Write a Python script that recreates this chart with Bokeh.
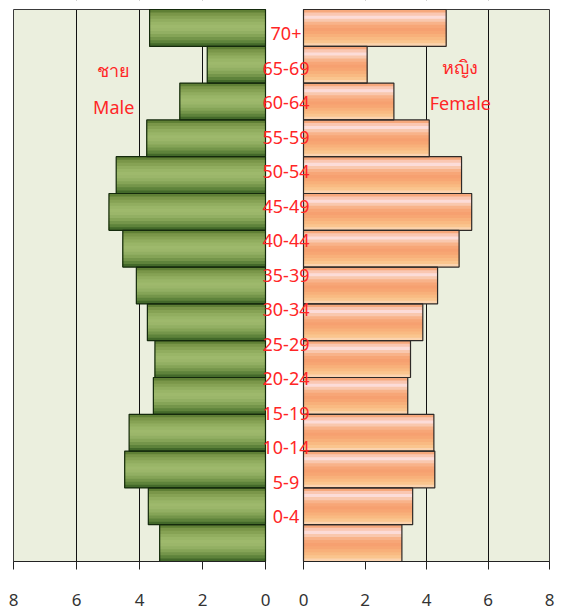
from bokeh.plotting import figure
from bokeh.models import (Range1d, LinearAxis, FixedTicker, Grid,
                          BoxAnnotation, ColumnDataSource, Label)
from bokeh.transform import dodge
from bokeh.core.properties import value
from bokeh.embed import file_html
from bokeh.resources import INLINE

# ---------------- data ----------------
ages = ["0-4", "5-9", "10-14", "15-19", "20-24", "25-29", "30-34", "35-39",
        "40-44", "45-49", "50-54", "55-59", "60-64", "65-69", "70+"]
male = [3.36, 3.72, 4.47, 4.33, 3.56, 3.51, 3.75, 4.10,
        4.53, 4.97, 4.74, 3.77, 2.72, 1.85, 3.68]
female = [3.20, 3.55, 4.27, 4.24, 3.39, 3.48, 3.88, 4.36,
          5.06, 5.47, 5.14, 4.09, 2.94, 2.07, 4.64]
tick_values = [0, 2, 4, 6, 8]
grid_values = [2, 4, 6]
male_title = ["ชาย", "Male"]
female_title = ["หญิง", "Female"]

# ---------------- style ----------------
BG = "#EBEFDE"
BORDER = "#3a3a3a"
RED = "#FF2626"
FONT = "Noto Sans"
green_stripes = ["#5F7F35", "#7A9649", "#86A254", "#91AD5F", "#99B567", "#9EB96C",
                 "#9BB66A", "#92AF63", "#85A457", "#74954A", "#5E833B", "#43692A"]
orange_stripes = ["#F6A87C", "#FAC7B2", "#FCDCD8", "#F9C8AE", "#F8B38A", "#F7A677",
                  "#F6A070", "#F7A673", "#F8B07A", "#F9BA82", "#FAC58E", "#FBD3AE"]

n_ages = len(ages)
src = ColumnDataSource(dict(age=ages, idx=list(range(n_ages)),
                            male=male, female=female))

# ---------------- layout (frame = whole canvas) ----------------
W, H = 566, 612
M_LEFT, M_ZERO = 13, 265          # male panel: value 8 at x=13, value 0 at x=265
F_ZERO, F_RIGHT = 303, 549        # female panel: value 0 at x=303, value 8 at x=549
PANEL_TOP, PANEL_BOTTOM = 9, 561
PX_M = (M_ZERO - M_LEFT) / 8.0
PX_F = (F_RIGHT - F_ZERO) / 8.0
PX_Y = (PANEL_BOTTOM - PANEL_TOP) / n_ages
LBL_PX, LBL_FIRST = 34.5, 33      # age labels: own spacing, top label at y=33

y_end = n_ages - 0.5 + PANEL_TOP / PX_Y
lbl_end = (n_ages - 1) + LBL_FIRST / LBL_PX

p = figure(width=W, height=H, output_backend="svg", toolbar_location=None,
           x_range=Range1d(-F_ZERO / PX_F, (W - F_ZERO) / PX_F),
           y_range=Range1d(y_end - H / PX_Y, y_end),
           min_border_left=0, min_border_right=0, min_border_top=0,
           min_border_bottom=0)
p.extra_x_ranges = {"male": Range1d(8 + M_LEFT / PX_M, 8 - (W - M_LEFT) / PX_M)}
p.extra_y_ranges = {"labels": Range1d(lbl_end - H / LBL_PX, lbl_end)}

p.outline_line_color = None
p.background_fill_color = "white"
p.border_fill_color = "white"
p.xgrid.visible = False
p.ygrid.visible = False
p.yaxis.visible = False
p.xaxis.visible = False

lo, hi = -0.5, n_ages - 0.5
# panel fills
for rn in ["male", "default"]:
    p.add_layout(BoxAnnotation(left=0, right=8, bottom=lo, top=hi, x_range_name=rn,
                               fill_color=BG, fill_alpha=1, line_color=None,
                               level="underlay"))
# grid lines
for rn in ["male", "default"]:
    p.add_layout(Grid(dimension=0, ticker=FixedTicker(ticks=grid_values),
                      x_range_name=rn, grid_line_color="#111111",
                      grid_line_width=1, level="underlay"))
# blank strips above / below panels
p.add_layout(BoxAnnotation(top=lo, fill_color="white", fill_alpha=1,
                           line_color=None, level="underlay"))
p.add_layout(BoxAnnotation(bottom=hi, fill_color="white", fill_alpha=1,
                           line_color=None, level="underlay"))
# panel outlines
for rn in ["male", "default"]:
    p.add_layout(BoxAnnotation(left=0, right=8, bottom=lo, top=hi, x_range_name=rn,
                               fill_alpha=0, line_color=BORDER, line_alpha=1,
                               line_width=1, level="underlay"))

# gradient-like bars: nested bars, each one covering from its band down to the bar bottom
n = len(green_stripes)
h = 1.0 / n
for k in range(n):
    off = -k * h / 2.0
    hk = 1.0 - k * h
    p.hbar(y=dodge("idx", off), left=0, right="male",
           height=hk, source=src, x_range_name="male",
           fill_color=green_stripes[k], line_color=None)
    p.hbar(y=dodge("idx", off), left=0, right="female",
           height=hk, source=src,
           fill_color=orange_stripes[k], line_color=None)

p.hbar(y="idx", left=0, right="male", height=1, source=src, x_range_name="male",
       fill_color=None, line_color="#142a0c", line_width=1.2)
p.hbar(y="idx", left=0, right="female", height=1, source=src,
       fill_color=None, line_color="#2e2a28", line_width=1.2)

# age labels
p.text(x=0, y="idx", text="age", source=src, y_range_name="labels",
       x_offset=-17.5, text_align="center", text_baseline="middle",
       text_color=RED, text_font=value(FONT), text_font_size="18px")

# panel titles
for i, t in enumerate(male_title):
    p.add_layout(Label(x=4.82, y=12.93 - i * 1.06, text=t, x_range_name="male",
                       y_range_name="labels", text_align="center",
                       text_baseline="middle", text_color=RED,
                       text_font=FONT, text_font_size="18px"))
for i, t in enumerate(female_title):
    p.add_layout(Label(x=5.10, y=13.04 - i * 1.04, text=t,
                       y_range_name="labels", text_align="center",
                       text_baseline="middle", text_color=RED,
                       text_font=FONT, text_font_size="18px"))

# axes (both pinned to the bottom edge of the panels)
def make_axis(range_name):
    ax = LinearAxis(x_range_name=range_name, fixed_location=lo)
    ax.ticker = FixedTicker(ticks=tick_values)
    ax.bounds = (0, 8)
    ax.major_tick_out = 8
    ax.major_tick_in = 0
    ax.minor_tick_line_color = None
    ax.axis_line_color = "#222222"
    ax.major_tick_line_color = "#222222"
    ax.major_label_text_font = FONT
    ax.major_label_text_font_size = "17px"
    ax.major_label_text_color = "#333333"
    ax.major_label_standoff = 24
    return ax

p.add_layout(make_axis("male"), "below")
p.add_layout(make_axis("default"), "below")

open("out.html", "w").write(file_html(p, INLINE))
